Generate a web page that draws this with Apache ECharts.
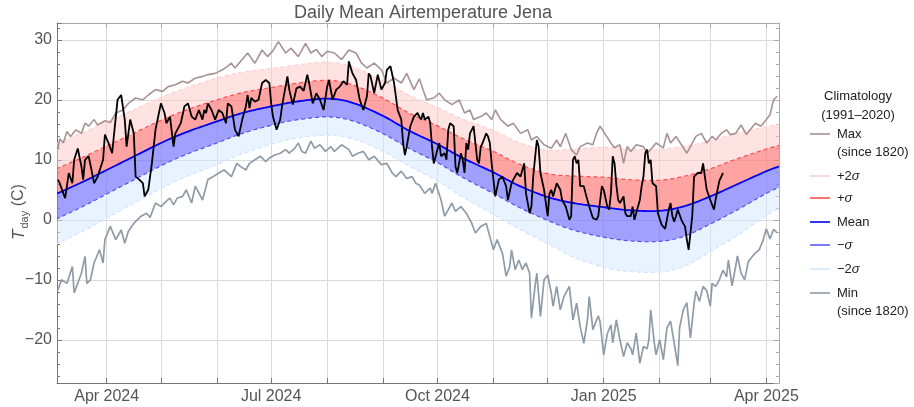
<!DOCTYPE html>
<html><head><meta charset="utf-8">
<script src="https://cdn.jsdelivr.net/npm/echarts/dist/echarts.min.js"></script>
<style>html,body{margin:0;padding:0;background:#fff}#c{width:914px;height:407px}</style>
</head><body><div id="c"></div>
<script>
// ---------- data ----------
// day offsets are counted from 2024-03-05 (day 0)
const climDates = ['2024-03-04','2024-03-20','2024-04-01','2024-04-15','2024-05-01','2024-05-15','2024-06-01','2024-06-15','2024-07-01','2024-07-15','2024-08-01','2024-08-15','2024-09-01','2024-09-15','2024-10-01','2024-10-15','2024-11-01','2024-11-15','2024-12-01','2024-12-15','2025-01-01','2025-01-15','2025-02-01','2025-02-15','2025-03-01','2025-03-15','2025-04-01','2025-04-08'];
const climMean   = [4.3,6.5,8.3,10.4,12.8,14.6,16.4,17.8,18.9,19.7,20.2,19.5,17.3,14.9,12.6,10.3,7.9,5.7,3.8,2.8,2.1,1.6,1.5,2.3,3.9,5.8,8.1,8.9];
const climPlus1  = [8.5,10.6,12.3,14.3,16.6,18.3,20.0,21.2,22.05,22.75,23.25,22.5,20.25,17.85,15.65,13.55,11.4,9.3,7.7,7.3,7.1,6.7,6.6,7.3,8.5,10.1,11.8,12.4];
const climMinus1 = [0.1,2.4,4.3,6.5,9.0,10.9,12.8,14.4,15.75,16.65,17.15,16.5,14.35,11.95,9.55,7.05,4.4,2.1,-0.1,-1.7,-2.9,-3.5,-3.6,-2.7,-0.7,1.5,4.4,5.4];
const climPlus2  = [12.7,14.7,16.3,18.2,20.4,22.0,23.6,24.6,25.2,25.8,26.3,25.5,23.2,20.8,18.7,16.8,14.9,12.9,11.6,11.8,12.1,11.8,11.7,12.3,13.1,14.4,15.5,15.9];
const climMinus2 = [-4.1,-1.7,0.3,2.6,5.2,7.2,9.2,11.0,12.6,13.6,14.1,13.5,11.4,9.0,6.5,3.8,0.9,-1.5,-4.0,-6.2,-7.9,-8.6,-8.7,-7.7,-5.3,-2.8,0.7,1.9];

const maxRecord = [[0,11.8],[1,13.5],[3,12.8],[5,14.7],[7,13.9],[10,15],[13,14.4],[15,16.1],[17,15.6],[20,16.7],[22,15.8],[26,16.5],[29,16.2],[32,17.8],[36,18.3],[39,19.4],[43,20.3],[47,20],[50,20.8],[54,21.7],[58,21.4],[61,22.2],[65,22.5],[69,23.1],[72,22.8],[76,23.6],[80,23.9],[83,24.2],[87,24.4],[91,25],[94,25.6],[96,26.1],[98,25.3],[101,26.4],[105,27.8],[109,26.1],[113,28.3],[116,27.2],[119,28.2],[122,29.7],[126,27.8],[129,28.6],[133,27.2],[137,29.4],[140,27.8],[143,28.4],[146,27.2],[149,28.1],[153,27.8],[157,26.7],[161,28.3],[165,27.8],[168,26.1],[171,25.3],[175,26.1],[179,25],[182,22.8],[186,23.6],[190,22.8],[193,24.4],[197,21.7],[200,23.5],[202,21.7],[204,20],[208,20.3],[211,21.1],[214,20],[218,19.2],[222,20],[225,17.8],[228,18.3],[230,16.7],[234,17.2],[237,17.8],[240,16.7],[242,18.3],[245,16.7],[249,15.6],[252,16.1],[256,14.4],[260,15],[262,13.3],[265,13.9],[269,12.5],[273,11.9],[276,13.3],[278,12.2],[281,14.4],[284,11.7],[287,10.8],[289,12.2],[293,12.8],[296,12.5],[298,14.4],[300,15.6],[303,14.2],[306,12.8],[308,12],[311,12.5],[313,9.4],[315,12.2],[317,11.4],[320,12.5],[324,12.2],[326,11.1],[328,11.7],[331,12.8],[335,12],[337,14.4],[339,12.8],[342,13.9],[345,12.5],[348,11.1],[350,12.2],[353,13.9],[356,14.4],[359,12.8],[362,13.9],[364,13.3],[367,14.4],[370,15],[372,14.2],[375,14.4],[378,15.8],[381,14.2],[383,15],[386,16.1],[389,15.6],[392,16.7],[394,17.5],[396,20],[398,20.6]];

const minRecord = [[0,-11.7],[2,-10],[5,-10.6],[8,-7.8],[9,-12.2],[13,-8.9],[15,-6.1],[16,-10.6],[18,-10],[20,-7.2],[23,-5],[25,-7.2],[26,-3.3],[29,-1.1],[32,-3.3],[35,-1.7],[37,-3.9],[39,-1.9],[42,-0.6],[46,0.6],[49,1.1],[51,0.4],[54,2.8],[57,2.2],[60,3.1],[62,3.6],[64,2.5],[66,3.6],[69,3.9],[71,5],[74,2.8],[76,5.6],[78,4.5],[80,3.3],[83,6.7],[86,7.2],[89,7.8],[92,8.3],[96,7.2],[99,9.4],[101,8.9],[104,8.3],[106,9.4],[109,10],[112,10.6],[115,9.7],[117,10.3],[120,10.8],[123,11.1],[126,11.7],[128,11.1],[131,11.9],[133,12.8],[135,11.4],[137,11.1],[140,13.1],[142,11.9],[145,12.5],[148,11.4],[151,12.2],[153,11.4],[157,12.5],[161,11.7],[163,10.6],[166,11.1],[169,11.4],[172,10],[175,10.6],[179,9.2],[182,9.4],[185,7.8],[187,7.2],[190,8.1],[193,6.9],[196,7.2],[198,6.1],[200,5.8],[203,4.4],[206,5.3],[207,4.4],[209,6.1],[212,3.3],[214,0.6],[216,1.7],[218,2.8],[220,1.4],[223,2.2],[226,1.1],[229,-0.6],[231,-2.2],[234,-1.1],[237,-0.6],[240,-3.9],[241,-5],[243,-3.3],[246,-5.6],[248,-9.4],[250,-7.8],[251,-5],[253,-8.3],[255,-6.7],[257,-8.3],[259,-7.2],[261,-8.9],[262,-16.4],[264,-11.1],[265,-8.9],[267,-16.1],[269,-10],[271,-9.2],[273,-12.2],[274,-14.4],[276,-11.1],[278,-15],[280,-12.8],[283,-11.1],[285,-16.7],[287,-13.9],[289,-17.8],[291,-20.6],[293,-16.7],[294,-12.8],[296,-18.3],[299,-16],[300,-17],[302,-22.5],[304,-19],[306,-17.5],[307,-20.5],[309,-16.7],[311,-20],[313,-22.8],[315,-20.5],[317,-21.5],[318,-22.5],[320,-18.9],[322,-23.9],[324,-21.1],[326,-21.5],[327,-20],[328,-15],[330,-20.5],[331,-22.5],[333,-20],[335,-23.3],[337,-18],[339,-16.9],[341,-20.5],[343,-24.3],[344,-18],[346,-15],[348,-13.8],[350,-19.7],[352,-14],[353,-11.9],[355,-13.6],[357,-11.1],[359,-11.8],[361,-14.4],[362,-10.6],[364,-11.1],[366,-10],[368,-8.4],[370,-9.5],[371,-6.7],[373,-11],[375,-7.8],[376,-6],[378,-8.9],[380,-10],[382,-7],[384,-6.2],[386,-5.5],[388,-5],[390,-3.6],[392,-1.5],[394,-3.2],[396,-1.6],[398,-2.2]];

const observed = [[0,6.7],[1,6.1],[3,4.4],[4,3.6],[5,5.6],[6,7.8],[8,6.1],[9,10],[11,11.9],[13,8.9],[14,6.7],[15,10],[17,10.6],[18,9.2],[20,6.1],[22,7.2],[25,10],[26,14.2],[28,12.8],[30,11.1],[33,20],[35,20.8],[37,16.7],[38,12.2],[39,14.4],[40,16.7],[42,14.4],[43,7.2],[45,6.7],[47,6.1],[48,3.9],[50,5],[52,9.4],[54,15],[57,19.4],[59,17.8],[60,16.1],[62,17.2],[64,12.2],[65,14.4],[68,16.1],[70,18.9],[72,19.4],[74,17.2],[76,16.7],[78,18.3],[80,16.7],[81,18.3],[82,17.8],[83,19.4],[85,18.3],[87,16.7],[89,18.3],[91,17.8],[93,16.1],[94,19.4],[96,18.9],[98,15],[100,13.9],[102,16.7],[104,18.9],[105,20.8],[106,18.6],[107,20.3],[109,19.7],[111,20],[113,22.8],[115,23.3],[116,23.6],[117,22.8],[118,19.4],[119,17.2],[121,15],[123,16.7],[124,18.9],[125,20.6],[127,23.9],[128,21.7],[130,19.2],[132,21.9],[134,22.2],[136,21.5],[138,24.2],[139,22.8],[141,19.4],[143,21.1],[145,20],[147,18.3],[149,22.2],[150,23.3],[152,20],[154,21.7],[156,22.2],[158,23.1],[160,22.5],[161,26.4],[163,24.4],[165,23.3],[167,20],[169,18.3],[171,20.6],[172,24.4],[173,23.9],[175,21.1],[177,24.2],[179,21.7],[181,22.8],[182,25],[184,25.6],[186,22.8],[188,18.3],[190,16.7],[191,12.8],[192,10.8],[193,12.2],[195,15.6],[197,17.2],[199,17.8],[200,17.2],[201,16.7],[202,17.8],[203,16.7],[205,17.2],[206,16.1],[207,12.2],[208,9.4],[210,11.7],[211,12.8],[212,10.6],[214,11.1],[215,10],[216,15],[217,16.1],[219,15.6],[220,8.9],[221,7.8],[223,11.1],[224,10],[225,7.8],[226,12.8],[227,11.7],[228,14.4],[229,15],[230,15.6],[231,12.8],[232,10],[233,9.4],[234,12.2],[235,12.8],[237,14.4],[238,13.9],[239,12.8],[240,9.4],[242,3.9],[244,6.7],[246,7.2],[248,5.6],[249,3.3],[251,6.1],[252,6.7],[254,7.8],[256,7.2],[258,9.4],[259,4.4],[261,1.1],[262,2.2],[263,7.2],[265,13.3],[266,12.2],[267,7.8],[269,5],[271,0.6],[272,4.4],[273,5],[274,3.9],[276,6.1],[278,5],[279,3.3],[281,2.2],[283,0],[284,0.6],[285,10],[286,10.6],[287,9.4],[288,10],[289,5.6],[291,5.6],[292,4.4],[293,3.3],[294,2.2],[296,0.3],[298,0],[299,0.6],[301,5.6],[302,5],[304,2.2],[305,1.7],[306,4.4],[307,10.6],[308,9.4],[309,5.8],[310,3.3],[311,2.8],[313,3.9],[314,1.1],[315,0.6],[317,0.6],[318,2.2],[319,0],[321,2.2],[322,3.3],[323,5.6],[324,7.2],[325,11.1],[326,11.7],[327,9.4],[328,10],[329,6.1],[330,6.2],[331,5.6],[332,1.1],[334,-0.8],[336,-1.5],[338,1.7],[339,2.8],[340,0.6],[341,-0.3],[342,0.6],[343,1.7],[345,0],[346,-0.6],[347,-1.1],[348,-3.3],[349,-5.0],[350,-2.2],[351,0.6],[352,7.2],[354,7.8],[356,7.8],[357,9.4],[358,7.2],[359,5],[361,3.3],[363,1.7],[364,3.5],[366,6.5],[368,7.8]];

const monthTicks = ['2024-04-01','2024-05-01','2024-06-01','2024-07-01','2024-08-01','2024-09-01','2024-10-01','2024-11-01','2024-12-01','2025-01-01','2025-02-01','2025-03-01','2025-04-01'];
const quarterTicks = ['2024-04-01','2024-07-01','2024-10-01','2025-01-01','2025-04-01'];
const monthNames = ['Jan','Feb','Mar','Apr','May','Jun','Jul','Aug','Sep','Oct','Nov','Dec'];

// ---------- helpers ----------
function ts(s){const p=s.split('-').map(Number);return new Date(p[0],p[1]-1,p[2]).getTime();}
function dayTs(d){return new Date(2024,2,5+d).getTime();}
const FF = "'Liberation Sans', Arial, sans-serif";
const xMin = new Date(2024,2,4,12).getTime();
const xMax = new Date(2025,3,8).getTime();
const climX = climDates.map(ts);
const daily = (arr)=>arr.map(p=>[dayTs(p[0]), p[1]]);

// smooth curve through pixel points (Catmull-Rom rendered as sampled cubic Bezier)
function curvePts(pts){
  const out=[];
  for(let i=0;i<pts.length-1;i++){
    const p0=pts[i-1]||pts[i], p1=pts[i], p2=pts[i+1], p3=pts[i+2]||pts[i+1];
    const c1=[p1[0]+(p2[0]-p0[0])/6, p1[1]+(p2[1]-p0[1])/6];
    const c2=[p2[0]-(p3[0]-p1[0])/6, p2[1]-(p3[1]-p1[1])/6];
    for(let k=0;k<12;k++){
      const t=k/12,u=1-t;
      out.push([u*u*u*p1[0]+3*u*u*t*c1[0]+3*u*t*t*c2[0]+t*t*t*p2[0],
                u*u*u*p1[1]+3*u*u*t*c1[1]+3*u*t*t*c2[1]+t*t*t*p2[1]]);
    }
  }
  out.push(pts[pts.length-1]);
  return out;
}

function renderClim(params, api){
  const px = arr => curvePts(arr.map((v,i)=>api.coord([climX[i], v])));
  const P2=px(climPlus2), P1=px(climPlus1), M=px(climMean), N1=px(climMinus1), N2=px(climMinus2);
  const band=(up,lo,fill)=>({type:'polygon', shape:{points:up.concat(lo.slice().reverse())}, style:{fill:fill, stroke:null}, silent:true});
  const line=(pts,stroke,w,dash)=>({type:'polyline', shape:{points:pts}, style:{fill:null, stroke:stroke, lineWidth:w, lineDash:dash||null}, silent:true});
  return {type:'group', children:[
    band(N1,N2,'rgba(212,232,255,0.5)'),
    band(M,N1,'rgba(120,120,255,0.7)'),
    band(P1,M,'rgba(255,120,120,0.68)'),
    band(P2,P1,'rgba(255,200,200,0.5)'),
    line(P2,'#ffd0d0',1.2,[4,3]),
    line(N2,'#cfe4ff',1.2,[4,3]),
    line(P1,'#ff4d4d',1.2,[4,3]),
    line(N1,'#5050f5',1.2,[4,3]),
    line(M,'#0000f0',1.8)
  ]};
}

const legendItems = [
  {y:134, color:'#a89292', text:'Max', sub:'(since 1820)'},
  {y:176, color:'#ffd4d4', text:'+2{i|σ}'},
  {y:198, color:'#ff4d4d', text:'+{i|σ}'},
  {y:222, color:'#0000f0', text:'Mean'},
  {y:245, color:'#5a5aff', text:'\u2212{i|σ}'},
  {y:269, color:'#d4e8ff', text:'\u22122{i|σ}'},
  {y:293, color:'#8f9ba7', text:'Min', sub:'(since 1820)'}
];
const richI = {i:{fontStyle:'italic', fontSize:13, fontFamily:FF, fill:'#222'}};
const graphics = [
  {type:'text', x:858, y:96, style:{text:'Climatology', fontSize:13, fontFamily:FF, fill:'#222', align:'center', verticalAlign:'middle'}},
  {type:'text', x:858, y:115, style:{text:'(1991\u20132020)', fontSize:13, fontFamily:FF, fill:'#222', align:'center', verticalAlign:'middle'}}
];
legendItems.forEach(it=>{
  graphics.push({type:'line', shape:{x1:810,y1:it.y,x2:830,y2:it.y}, style:{stroke:it.color, lineWidth:1.6}});
  graphics.push({type:'text', x:837, y:it.y, style:{text:it.text, fontSize:13, fontFamily:FF, fill:'#222', verticalAlign:'middle', rich:richI}});
  if (it.sub) graphics.push({type:'text', x:837, y:it.y+18, style:{text:it.sub, fontSize:13, fontFamily:FF, fill:'#222', verticalAlign:'middle'}});
});

const yCommon = {type:'value', min:-27.2, max:32.8, minInterval:10, maxInterval:10};
const xCommon = {type:'value', min:xMin, max:xMax, scale:true};
const lineBase = {type:'line', symbol:'none', smooth:false, silent:true};
const option = {
  animation:false,
  backgroundColor:'#fff',
  title:{text:'Daily Mean Airtemperature Jena', left:418, top:-1, textAlign:'center',
    textStyle:{fontSize:18, fontWeight:'normal', color:'#555', fontFamily:FF}},
  grid:{left:57, right:135, top:23, bottom:24, outerBoundsMode:'none', containLabel:false},
  xAxis:[
    Object.assign({}, xCommon, {position:'bottom',
      axisLine:{show:true, onZero:false, lineStyle:{color:'#777', width:1}},
      axisTick:{show:true, inside:true, length:5, customValues:monthTicks.map(ts), lineStyle:{color:'#777'}},
      axisLabel:{show:true, customValues:quarterTicks.map(ts), color:'#555', fontSize:16, fontFamily:FF, margin:6,
        formatter:(v)=>{const d=new Date(v);return monthNames[d.getMonth()]+' '+d.getFullYear();}},
      splitLine:{show:true, lineStyle:{color:'#dadada', width:1}},
      minorTick:{show:false}, minorSplitLine:{show:false}}),
    Object.assign({}, xCommon, {position:'top',
      axisLine:{show:true, onZero:false, lineStyle:{color:'#aaa', width:1}},
      axisTick:{show:true, inside:true, length:5, customValues:monthTicks.map(ts), lineStyle:{color:'#aaa'}},
      axisLabel:{show:false}, splitLine:{show:false}})
  ],
  yAxis:[
    Object.assign({}, yCommon, {position:'left',
      axisLine:{show:true, onZero:false, lineStyle:{color:'#777', width:1}},
      axisTick:{show:true, inside:true, length:5, lineStyle:{color:'#777'}},
      minorTick:{show:true, splitNumber:5, length:3, lineStyle:{color:'#777'}},
      axisLabel:{show:true, color:'#555', fontSize:16, fontFamily:FF, margin:5, showMinLabel:false, showMaxLabel:false,
        formatter:(v)=>String(v).replace('-','\u2212')},
      splitLine:{show:true, lineStyle:{color:'#dadada', width:1}},
      name:'{t|T}{s|day} (C)', nameLocation:'middle', nameGap:27, nameMoveOverlap:false,
      nameTextStyle:{color:'#555', fontSize:16, fontFamily:FF, padding:[0,18,0,0],
        rich:{t:{fontStyle:'italic', fontSize:17, fontFamily:FF, color:'#555', lineHeight:22},
              s:{fontSize:11, fontFamily:FF, color:'#555', verticalAlign:'bottom', lineHeight:12, padding:[0,0,0,1]}}}}),
    Object.assign({}, yCommon, {position:'right',
      axisLine:{show:true, onZero:false, lineStyle:{color:'#aaa', width:1}},
      axisTick:{show:true, inside:true, length:5, lineStyle:{color:'#aaa'}},
      minorTick:{show:true, splitNumber:5, length:3, lineStyle:{color:'#aaa'}},
      axisLabel:{show:false}, splitLine:{show:false}})
  ],
  graphic: graphics,
  series:[
    {type:'custom', name:'Climatology', coordinateSystem:'cartesian2d', clip:true, silent:true,
      data:[[xMin, 0]], encode:{x:0, y:1}, renderItem:renderClim, z:1},
    Object.assign({}, lineBase, {name:'Max', data:daily(maxRecord), lineStyle:{color:'#a89292', width:1.6}, z:3}),
    Object.assign({}, lineBase, {name:'Min', data:daily(minRecord), lineStyle:{color:'#8f9ba7', width:1.7}, z:3}),
    Object.assign({}, lineBase, {name:'Observed', data:daily(observed), lineStyle:{color:'#000', width:1.8}, z:4})
  ]
};
const chart = echarts.init(document.getElementById('c'), null, {renderer:'canvas'});
chart.setOption(option);
</script>
</body></html>
